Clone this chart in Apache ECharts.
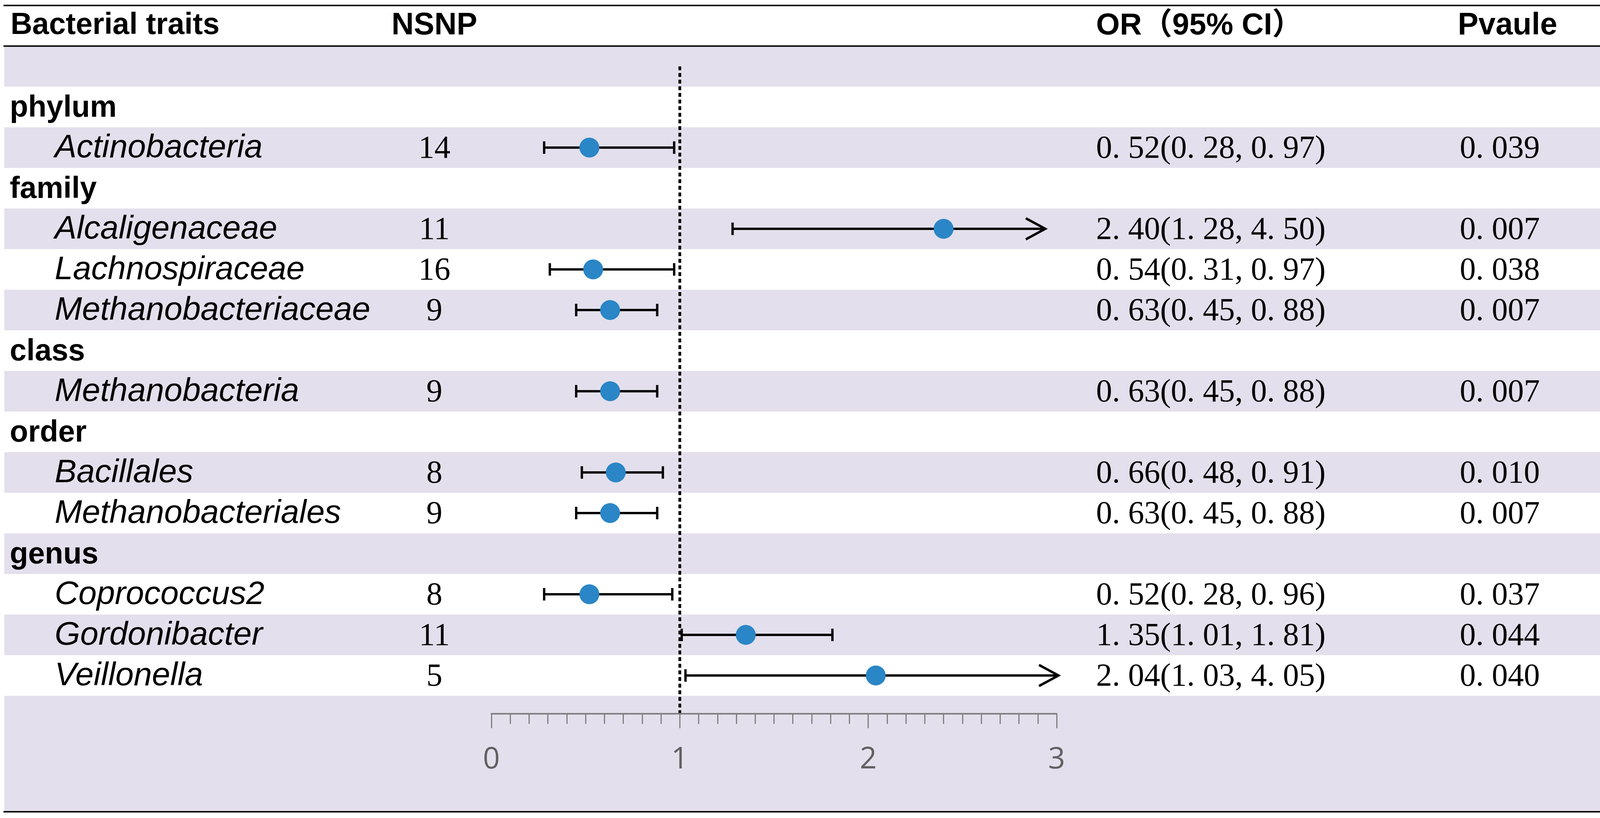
<!DOCTYPE html>
<html>
<head>
<meta charset="utf-8">
<title>Forest plot</title>
<script src="https://cdn.jsdelivr.net/npm/echarts@6/dist/echarts.min.js"></script>
<style>
  html, body { margin: 0; padding: 0; background: #fff; }
  #chart { width: 4212px; height: 2095px; }
</style>
</head>
<body>
<div id="chart"></div>
<script>
// data
const traits = ['Actinobacteria', 'Alcaligenaceae', 'Lachnospiraceae', 'Methanobacteriaceae', 'Methanobacteria',
  'Bacillales', 'Methanobacteriales', 'Coprococcus2', 'Gordonibacter', 'Veillonella'];
const traitGroup = ['phylum', 'family', 'family', 'family', 'class', 'order', 'order', 'genus', 'genus', 'genus'];
const nsnp = [14, 11, 16, 9, 9, 8, 9, 8, 11, 5];
const orValue = [0.52, 2.40, 0.54, 0.63, 0.63, 0.66, 0.63, 0.52, 1.35, 2.04];
const ciLow = [0.28, 1.28, 0.31, 0.45, 0.45, 0.48, 0.45, 0.28, 1.01, 1.03];
const ciHigh = [0.97, 4.50, 0.97, 0.88, 0.88, 0.91, 0.88, 0.96, 1.81, 4.05];
const pValue = ['0.039', '0.007', '0.038', '0.007', '0.007', '0.010', '0.007', '0.037', '0.044', '0.040'];
// where the arrow is cut off for intervals running past the axis
const arrowTip = [null, 2.94, null, null, null, null, null, null, null, 3.01];
const headers = ['Bacterial traits', 'NSNP', 'OR\uFF0895% CI\uFF09', 'Pvaule'];
const axisMin = 0, axisMax = 3, refValue = 1;

const W = 4212, H = 2095;
const bandColor = '#E3DFEC';
const dotColor = '#2A86C6';
const sans = '"Liberation Sans", Arial, "Noto Sans CJK SC", sans-serif';
const serif = '"Liberation Serif", "Times New Roman", serif';

// table rows: one blank band, then group headings followed by their traits
const rows = [{ kind: 'blank' }];
let lastGroup = null;
traits.forEach(function (t, i) {
  if (traitGroup[i] !== lastGroup) {
    rows.push({ kind: 'group', label: traitGroup[i] });
    lastGroup = traitGroup[i];
  }
  rows.push({ kind: 'trait', i: i });
});
const lastRow = rows.length - 1;

function fmt(s) { return String(s).replace(/\./g, '. '); }
function orText(i) {
  return fmt(orValue[i].toFixed(2)) + '(' + fmt(ciLow[i].toFixed(2)) + ', ' + fmt(ciHigh[i].toFixed(2)) + ')';
}

const ciData = [];
const dotData = [];
rows.forEach(function (r, k) {
  if (r.kind !== 'trait') return;
  const i = r.i;
  ciData.push([ciLow[i], k, ciHigh[i], arrowTip[i] == null ? ciHigh[i] : arrowTip[i]]);
  dotData.push([orValue[i], k]);
});

const chart = echarts.init(document.getElementById('chart'));

function txt(x, y, text, opt) {
  return {
    type: 'text', x: x, y: y,
    style: Object.assign({
      text: text, fill: '#000', fontSize: 80, fontFamily: sans,
      align: 'left', verticalAlign: 'middle'
    }, opt)
  };
}

const option = {
  animation: false,
  backgroundColor: '#fff',
  grid: { left: 1258, width: 1447, top: 14, height: 1768 },
  xAxis: {
    type: 'value', position: 'bottom', min: axisMin, max: axisMax, interval: 1, offset: 46, z: 10,
    axisLine: { show: true, onZero: false, lineStyle: { color: '#7f7f7f', width: 4 } },
    axisTick: { show: true, length: 37, lineStyle: { color: '#7f7f7f', width: 3 } },
    minorTick: { show: true, splitNumber: 10, length: 26, lineStyle: { color: '#7f7f7f', width: 3 } },
    axisLabel: { show: true, margin: 80, fontSize: 76, color: '#606060', fontFamily: '"Open Sans", "Noto Sans", sans-serif' },
    splitLine: { show: false },
    minorSplitLine: { show: false }
  },
  yAxis: { type: 'value', min: -1.5, max: lastRow + 0.5, inverse: true, show: false },
  series: [
    {
      // alternating background bands
      type: 'custom', name: 'bands', silent: true, clip: false, z: 0,
      data: rows.map(function (r, k) { return [0, k]; }),
      renderItem: function (params, api) {
        const k = api.value(1);
        if (k % 2) return null;
        const top = api.coord([0, k - 0.5])[1];
        const bot = api.coord([0, k + 0.5])[1];
        return { type: 'rect', shape: { x: 11, y: top, width: 4189, height: bot - top }, style: { fill: bandColor } };
      }
    },
    {
      // rules of the table and the band under the axis
      type: 'custom', name: 'frame', silent: true, clip: false, z: 1,
      data: [[0, -1]],
      renderItem: function (params, api) {
        const yTop = api.coord([0, -1.5])[1];
        const yHead = api.coord([0, -0.5])[1];
        const yLast = api.coord([0, lastRow + 0.5])[1];
        const yEnd = H - 16;
        return {
          type: 'group',
          children: [
            { type: 'rect', shape: { x: 11, y: yLast, width: 4189, height: yEnd - yLast }, style: { fill: bandColor } },
            { type: 'line', shape: { x1: 9, y1: yTop, x2: 4205, y2: yTop }, style: { stroke: '#111', lineWidth: 4 } },
            { type: 'line', shape: { x1: 9, y1: yHead, x2: 4205, y2: yHead }, style: { stroke: '#111', lineWidth: 4 } },
            { type: 'line', shape: { x1: 9, y1: yEnd, x2: 4205, y2: yEnd }, style: { stroke: '#111', lineWidth: 4 } }
          ]
        };
      }
    },
    {
      // dotted reference line at OR = 1
      type: 'custom', name: 'ref', silent: true, clip: false, z: 2,
      data: [[refValue, 0]],
      renderItem: function (params, api) {
        const p0 = api.coord([api.value(0), api.value(1)]);
        const yAxisLine = api.coord([api.value(0), lastRow + 0.5])[1] + 46;
        return {
          type: 'line', shape: { x1: p0[0], y1: p0[1], x2: p0[0], y2: yAxisLine },
          style: { stroke: '#000', lineWidth: 7, lineDash: [10, 7] }
        };
      }
    },
    {
      // confidence intervals, with an arrow when they run past the axis
      type: 'custom', name: 'ci', silent: true, clip: false, z: 3,
      encode: { x: [0, 2, 3], y: 1 },
      data: ciData,
      renderItem: function (params, api) {
        const k = api.value(1);
        const lo = api.coord([api.value(0), k]);
        const hiVal = api.value(2), tipVal = api.value(3);
        const clipped = hiVal > axisMax;
        const hi = api.coord([clipped ? tipVal : hiVal, k]);
        const st = { stroke: '#000', lineWidth: 6 };
        const kids = [
          { type: 'line', shape: { x1: lo[0], y1: lo[1], x2: hi[0], y2: hi[1] }, style: st },
          { type: 'line', shape: { x1: lo[0], y1: lo[1] - 16, x2: lo[0], y2: lo[1] + 16 }, style: st }
        ];
        if (clipped) {
          kids.push({ type: 'polyline', shape: { points: [[hi[0] - 50, hi[1] - 27], [hi[0], hi[1]], [hi[0] - 50, hi[1] + 27]] }, style: { stroke: '#000', lineWidth: 6, fill: null } });
        } else {
          kids.push({ type: 'line', shape: { x1: hi[0], y1: hi[1] - 16, x2: hi[0], y2: hi[1] + 16 }, style: st });
        }
        return { type: 'group', children: kids };
      }
    },
    {
      type: 'scatter', name: 'OR', silent: true, z: 4,
      symbol: 'circle', symbolSize: 51,
      itemStyle: { color: dotColor, opacity: 1 },
      data: dotData
    },
    {
      // table text
      type: 'custom', name: 'table', silent: true, clip: false, z: 5,
      data: [[0, -1]].concat(rows.map(function (r, k) { return [0, k]; })),
      renderItem: function (params, api) {
        const k = api.value(1);
        const y = api.coord([0, k])[1];
        if (k === -1) {
          return {
            type: 'group', children: [
              txt(27, y, headers[0], { fontWeight: 'bold', fontSize: 77 }),
              txt(1112, y, headers[1], { fontWeight: 'bold', align: 'center', fontSize: 79 }),
              txt(2806, y, headers[2], { fontWeight: 'bold', fontSize: 78 }),
              txt(3732, y, headers[3], { fontWeight: 'bold', fontSize: 79 })
            ]
          };
        }
        const r = rows[k];
        if (r.kind === 'blank') return null;
        if (r.kind === 'group') {
          return txt(25, y + 4, r.label, { fontWeight: 'bold', fontSize: 77 });
        }
        const i = r.i;
        return {
          type: 'group', children: [
            txt(140, y + 2, traits[i], { fontStyle: 'italic', fontSize: 84 }),
            txt(1112, y + 4, String(nsnp[i]), { fontFamily: serif, align: 'center', fontSize: 82 }),
            txt(2806, y + 4, orText(i), { fontFamily: serif, fontSize: 82 }),
            txt(3737, y + 4, fmt(pValue[i]), { fontFamily: serif, fontSize: 82 })
          ]
        };
      }
    }
  ]
};

chart.setOption(option);
</script>
</body>
</html>
